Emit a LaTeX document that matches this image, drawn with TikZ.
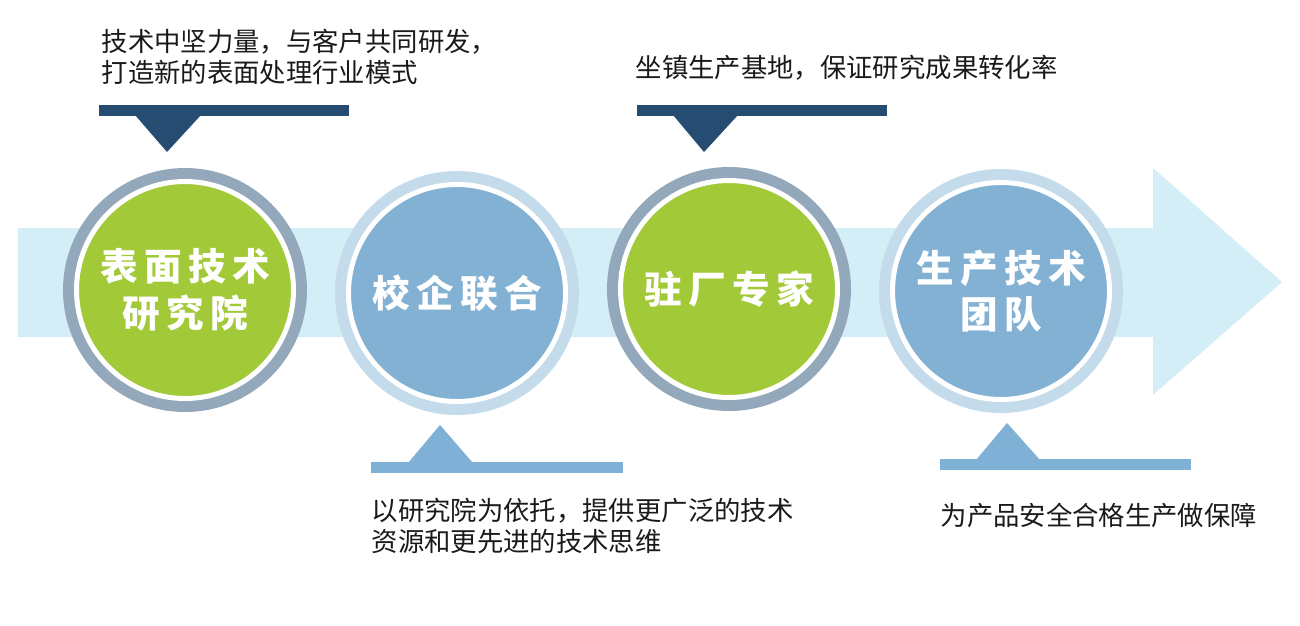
\documentclass[tikz,border=0pt]{standalone}
\usepackage{fontspec}
\setmainfont{Noto Sans CJK SC}
\newfontfamily\circfont[LetterSpace=17]{Noto Sans CJK SC}
\definecolor{band}{RGB}{212,238,248}
\definecolor{ringdark}{RGB}{148,168,187}
\definecolor{ringlight}{RGB}{195,219,234}
\definecolor{leaf}{RGB}{162,201,55}
\definecolor{sky}{RGB}{130,177,211}
\definecolor{navy}{RGB}{38,76,113}
\definecolor{barblue}{RGB}{127,176,213}
\definecolor{txt}{RGB}{26,26,26}

\begin{document}
\begin{tikzpicture}[
  ring/.style={circle,minimum size=2.44cm,inner sep=0pt},
  disc/.style={circle,minimum size=2.17cm,inner sep=0pt,draw=white,line width=0.05cm,
    text=white,align=center,font=\circfont\bfseries\fontsize{10.7}{12.5}\selectfont},
  note/.style={anchor=west,align=left,inner sep=0pt,text=txt,font=\fontsize{7.5}{8.9}\selectfont}]
  \useasboundingbox (0,0) rectangle (13,6.25);
  % banda con flecha
  \fill[band] (0.18,3.97) -- (11.53,3.97) -- (11.53,4.57) -- (12.82,3.43)
    -- (11.53,2.30) -- (11.53,2.88) -- (0.18,2.88) -- cycle;
  % circulos
  \node[ring,fill=ringdark] (r1) at (1.85,3.35) {};
  \node[disc,fill=leaf] (yjy) at (r1) {\raisebox{-0.05cm}{\shortstack{表面技术\\研究院}}};
  \node[ring,fill=ringlight] (r2) at (4.57,3.32) {};
  \node[disc,fill=sky] (xq) at (r2) {校企联合};
  \node[ring,fill=ringdark] (r3) at (7.29,3.36) {};
  \node[disc,fill=leaf] (zc) at (r3) {驻厂专家};
  \node[ring,fill=ringlight] (r4) at (10.01,3.34) {};
  \node[disc,fill=sky] (td) at (r4) {\raisebox{-0.05cm}{\shortstack{生产技术\\团队}}};
  % llamadas arriba
  \fill[navy] (0.99,5.09) rectangle (3.49,5.20);
  \fill[navy] (1.35,5.10) -- (2.01,5.10) -- (1.67,4.73) -- cycle;
  \node[note] (t1) at (1.01,5.68) {技术中坚力量，与客户共同研发，\\打造新的表面处理行业模式};
  \fill[navy] (6.37,5.09) rectangle (8.87,5.20);
  \fill[navy] (6.73,5.10) -- (7.38,5.10) -- (7.04,4.73) -- cycle;
  \node[note] (t3) at (6.35,5.57) {坐镇生产基地，保证研究成果转化率};
  % llamadas abajo
  \fill[barblue] (3.71,1.52) rectangle (6.23,1.63);
  \fill[barblue] (4.08,1.62) -- (4.73,1.62) -- (4.40,2.00) -- cycle;
  \node[note] (t2) at (3.71,0.99) {以研究院为依托，提供更广泛的技术\\资源和更先进的技术思维};
  \fill[barblue] (9.40,1.55) rectangle (11.91,1.66);
  \fill[barblue] (9.76,1.65) -- (10.40,1.65) -- (10.07,2.02) -- cycle;
  \node[note] (t4) at (9.40,1.10) {为产品安全合格生产做保障};
\end{tikzpicture}
\end{document}
